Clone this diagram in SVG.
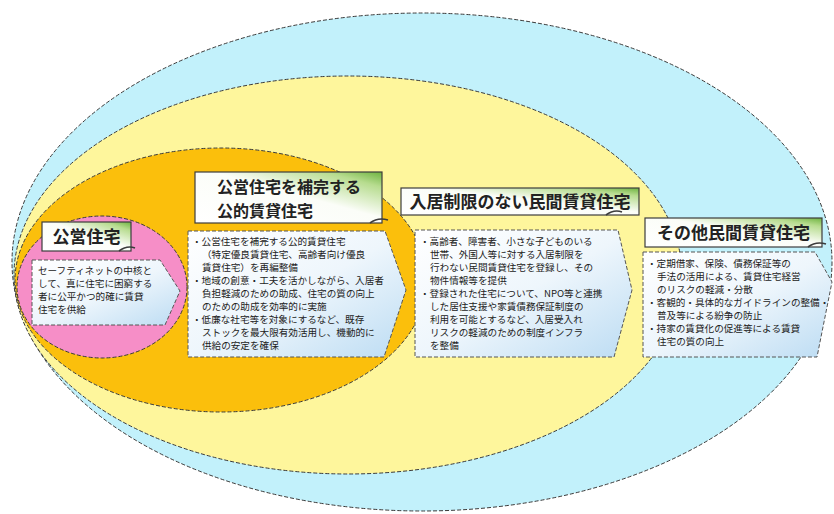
<svg xmlns="http://www.w3.org/2000/svg" width="834" height="514" viewBox="0 0 834 514">
<defs>
<linearGradient id="lblGrad" x1="0" y1="1" x2="1" y2="0">
<stop offset="0" stop-color="#ffffff"/>
<stop offset="0.55" stop-color="#fbfdf8"/>
<stop offset="0.85" stop-color="#b7dc8f"/>
<stop offset="1" stop-color="#6db33f"/>
</linearGradient>
<linearGradient id="descGrad" x1="0" y1="0" x2="1" y2="1">
<stop offset="0" stop-color="#ffffff"/>
<stop offset="0.5" stop-color="#eef6fc"/>
<stop offset="1" stop-color="#bcdcf3"/>
</linearGradient>
<style>
.ring{stroke:#3a3a3a;stroke-width:1;stroke-dasharray:4 2}
.lbl{fill:url(#lblGrad);stroke:#3c3c3c;stroke-width:1.2}
.curl{fill:none;stroke:#3c3c3c;stroke-width:1.6}
.desc{fill:url(#descGrad);stroke:#555;stroke-width:1;stroke-dasharray:4 2}
.lt{font-family:"Noto Sans CJK JP","Noto Sans CJK SC",sans-serif;font-size:17px;font-weight:bold;fill:#222}
.lt2{font-family:"Noto Sans CJK JP","Noto Sans CJK SC",sans-serif;font-size:16px;font-weight:bold;fill:#222}
.dt{font-family:"Noto Sans CJK JP","Noto Sans CJK SC",sans-serif;font-size:9.6px;fill:#222}
</style>
</defs>
<rect width="834" height="514" fill="#ffffff"/>
<g id="rings">
<ellipse class="ring" cx="422" cy="262" rx="410" ry="249" fill="#c2f1fb"/>
<ellipse class="ring" cx="348" cy="275" rx="334" ry="199" fill="#fef69c"/>
<ellipse class="ring" cx="221" cy="280" rx="206" ry="132" fill="#fbbf0c"/>
<ellipse class="ring" cx="102" cy="287" rx="85" ry="71" fill="#f68ec7"/>
</g>
<g id="node-public">
<rect class="lbl" x="42" y="222" width="89" height="29"/>
<path class="curl" d="M119,251 Q127,245 135,248"/>
<text class="lt" x="86.5" y="242.5" text-anchor="middle">公営住宅</text>
<polygon class="desc" points="32,260 160,260 180,291 165,325 32,325"/>
<text class="dt"><tspan x="38" y="274">セーフティネットの中核と</tspan><tspan x="38" y="287">して、真に住宅に困窮する</tspan><tspan x="38" y="300">者に公平かつ的確に賃貸</tspan><tspan x="38" y="313">住宅を供給</tspan></text>
</g>
<g id="node-public-rental">
<rect class="lbl" x="195" y="172" width="187" height="51"/>
<path class="curl" d="M370,223 Q378,217 388,220"/>
<text class="lt2"><tspan x="217" y="193">公営住宅を補完する</tspan><tspan x="217" y="217">公的賃貸住宅</tspan></text>
<polygon class="desc" points="188,231 385,231 406,290 384,357 188,357"/>
<text class="dt"><tspan x="192" y="245">・公営住宅を補完する公的賃貸住宅</tspan><tspan x="202" y="258">（特定優良賃貸住宅、高齢者向け優良</tspan><tspan x="202" y="271">賃貸住宅）を再編整備</tspan><tspan x="192" y="284">・地域の創意・工夫を活かしながら、入居者</tspan><tspan x="202" y="297">負担軽減のための助成、住宅の質の向上</tspan><tspan x="202" y="310">のための助成を効率的に実施</tspan><tspan x="192" y="323">・低廉な社宅等を対象にするなど、既存</tspan><tspan x="202" y="336">ストックを最大限有効活用し、機動的に</tspan><tspan x="202" y="349">供給の安定を確保</tspan></text>
</g>
<g id="node-private-open">
<rect class="lbl" x="401" y="188" width="238" height="27"/>
<path class="curl" d="M606,215 Q614,209 622,212"/>
<text class="lt" x="520" y="208" text-anchor="middle">入居制限のない民間賃貸住宅</text>
<polygon class="desc" points="415,230 618,230 632,290 614,357 415,357"/>
<text class="dt"><tspan x="420" y="245">・高齢者、障害者、小さな子どものいる</tspan><tspan x="430" y="258">世帯、外国人等に対する入居制限を</tspan><tspan x="430" y="271">行わない民間賃貸住宅を登録し、その</tspan><tspan x="430" y="284">物件情報等を提供</tspan><tspan x="420" y="297">・登録された住宅について、NPO等と連携</tspan><tspan x="430" y="310">した居住支援や家賃債務保証制度の</tspan><tspan x="430" y="323">利用を可能とするなど、入居受入れ</tspan><tspan x="430" y="336">リスクの軽減のための制度インフラ</tspan><tspan x="430" y="349">を整備</tspan></text>
</g>
<g id="node-private-other">
<rect class="lbl" x="645" y="218" width="177" height="29"/>
<path class="curl" d="M808,247 Q816,241 826,244"/>
<text class="lt" x="733.5" y="238.5" text-anchor="middle">その他民間賃貸住宅</text>
<polygon class="desc" points="643,252 815,252 832,282 817,357 643,357"/>
<text class="dt"><tspan x="647" y="267">・定期借家、保険、債務保証等の</tspan><tspan x="657" y="280">手法の活用による、賃貸住宅経営</tspan><tspan x="657" y="293">のリスクの軽減・分散</tspan><tspan x="647" y="306">・客観的・具体的なガイドラインの整備・</tspan><tspan x="657" y="319">普及等による紛争の防止</tspan><tspan x="647" y="332">・持家の賃貸化の促進等による賃貸</tspan><tspan x="657" y="345">住宅の質の向上</tspan></text>
</g>
</svg>
